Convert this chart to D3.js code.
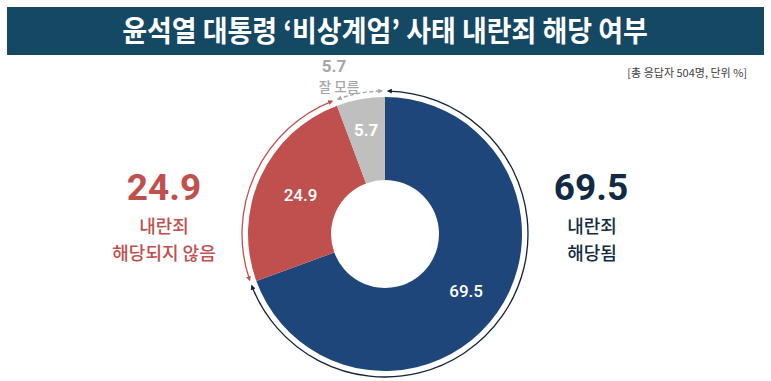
<!DOCTYPE html>
<html><head><meta charset="utf-8">
<script src="https://cdn.jsdelivr.net/npm/d3@7"></script>
<style>
html,body{margin:0;padding:0;background:#fff;}
svg{display:block;font-family:"Noto Sans CJK KR","Noto Sans",sans-serif;}
</style></head>
<body>
<svg id="c" width="771" height="381"></svg>
<script>
const title = "윤석열 대통령 ‘비상계엄’ 사태 내란죄 해당 여부";
const note = "[총 응답자 504명, 단위 %]";
const categories = ["내란죄 해당됨", "내란죄 해당되지 않음", "잘 모름"];
const values = [69.5, 24.9, 5.7];
const colors = ["#1f467b", "#c0504d", "#bfbfbf"];
const arcColors = ["#12233a", "#c0504d", "#a6a6a6"];
const bigLabelColors = ["#132a45", "#c0504d", "#a6a6a6"];
const labelLines = [["내란죄","해당됨"],["내란죄","해당되지 않음"],["잘 모름"]];

const svg = d3.select("#c");
// title bar
svg.append("rect").attr("x",7).attr("y",7).attr("width",757).attr("height",48).attr("fill","#154862");
svg.append("text").attr("transform","translate(385,42) scale(0.93,1)").attr("text-anchor","middle").attr("fill","#fff")
  .attr("font-size",29).attr("font-weight",700).text(title);
svg.append("text").attr("x",747).attr("y",77).attr("text-anchor","end").attr("fill","#404040")
  .attr("font-size",11).text(note);

const cx = 385, cy = 234, rOuter = 137, rInner = 54, rRing = 143;
const g = svg.append("g").attr("transform",`translate(${cx},${cy})`);
const pie = d3.pie().sort(null).value(d=>d)(values);
const arc = d3.arc().innerRadius(rInner).outerRadius(rOuter);
g.selectAll("path.slice").data(pie).join("path").attr("class","slice")
  .attr("d",arc).attr("fill",(d,i)=>colors[i]);

// slice labels
const labelR = [99, 93, 106];
g.selectAll("text.sl").data(pie).join("text").attr("class","sl")
  .attr("transform",(d,i)=>{
    const c = d3.arc().innerRadius(labelR[i]).outerRadius(labelR[i]).centroid(d);
    return `translate(${c[0]},${c[1]})`;
  })
  .attr("text-anchor","middle").attr("dy","0.36em").attr("fill","#fff")
  .attr("font-family","Roboto, 'Noto Sans', sans-serif")
  .attr("font-size",17).attr("font-weight",(d,i)=>i===2?700:500)
  .text(d=>d.value.toFixed(1));

// markers
const defs = svg.append("defs");
arcColors.forEach((c,i)=>{
  defs.append("marker").attr("id","m"+i).attr("viewBox","0 0 10 10").attr("refX",8).attr("refY",5)
    .attr("markerWidth",5).attr("markerHeight",5).attr("orient","auto-start-reverse")
    .attr("markerUnits","userSpaceOnUse")
    .append("path").attr("d","M0,0 L10,5 L0,10 z").attr("fill",c);
});
const gap = 0.02;
pie.forEach((d,i)=>{
  const p = d3.path();
  const a0 = d.startAngle + gap - Math.PI/2, a1 = d.endAngle - gap - Math.PI/2;
  p.arc(0,0,rRing,a0,a1,false);
  g.append("path").attr("d",p.toString()).attr("fill","none").attr("stroke",arcColors[i])
    .attr("stroke-width",i===2?1.4:1.3).attr("stroke-dasharray",i===2?"4,2.5":null)
    .attr("marker-start",`url(#m${i})`).attr("marker-end",`url(#m${i})`);
});

// big side labels
const side = [
  {x:591, y:200, size:37, lx:592, ly:[233,259.5], ls:18},
  {x:164, y:200, size:37, lx:164, ly:[233,259.5], ls:18},
  {x:334, y:71.5, size:17, lx:339, ly:[92], ls:13.5}
];
side.forEach((s,i)=>{
  svg.append("text").attr("x",s.x).attr("y",s.y).attr("text-anchor","middle")
    .attr("fill",bigLabelColors[i]).attr("font-family","Roboto, 'Noto Sans', sans-serif")
    .attr("font-size",s.size).attr("font-weight",700).text(values[i].toFixed(1));
  labelLines[i].forEach((t,j)=>{
    svg.append("text").attr("x",s.lx).attr("y",s.ly[j]).attr("text-anchor","middle")
      .attr("fill",bigLabelColors[i]).attr("font-size",s.ls).attr("font-weight",500).text(t);
  });
});
</script>
</body></html>
